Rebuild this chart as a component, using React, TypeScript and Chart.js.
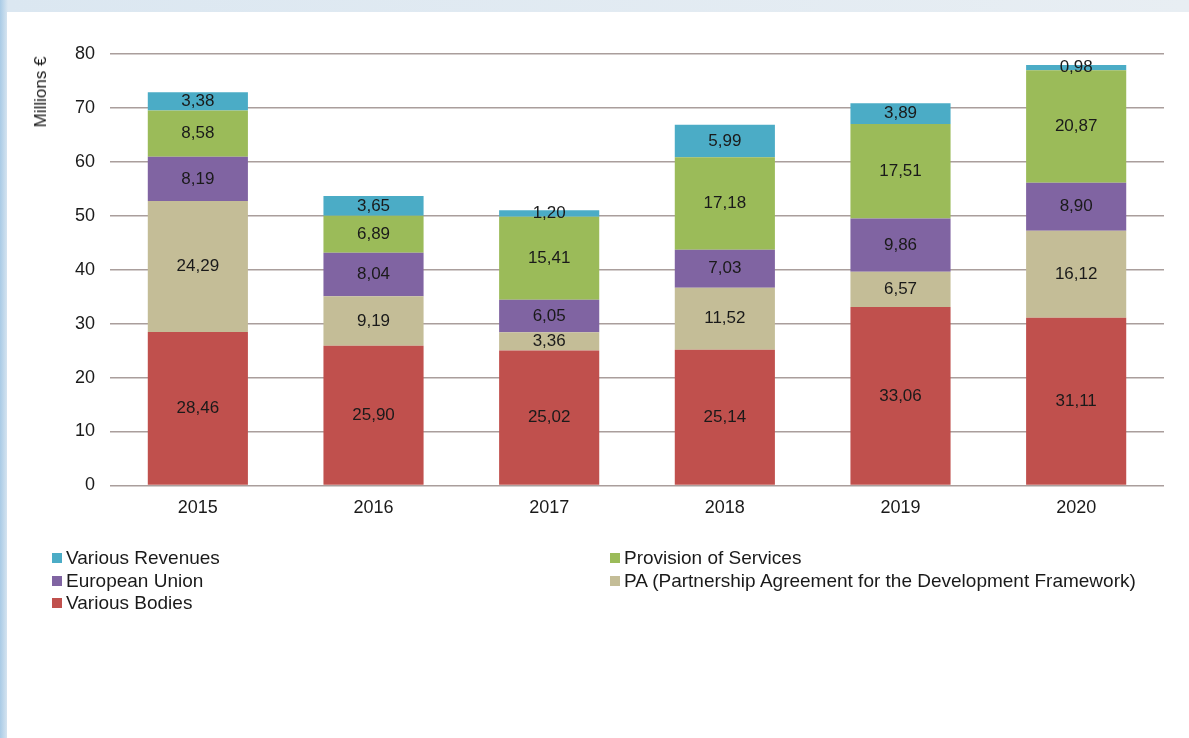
import React, { useEffect, useRef } from "react";
import { Chart, registerables } from "chart.js";

Chart.register(...registerables);

const years = ["2015", "2016", "2017", "2018", "2019", "2020"];
const variousBodies = [28.46, 25.9, 25.02, 25.14, 33.06, 31.11];
const partnershipAgreement = [24.29, 9.19, 3.36, 11.52, 6.57, 16.12];
const europeanUnion = [8.19, 8.04, 6.05, 7.03, 9.86, 8.9];
const provisionOfServices = [8.58, 6.89, 15.41, 17.18, 17.51, 20.87];
const variousRevenues = [3.38, 3.65, 1.2, 5.99, 3.89, 0.98];
const yTicks = [0, 10, 20, 30, 40, 50, 60, 70, 80];

const FONT = "'Liberation Sans', Arial, sans-serif";

const series = [
  { label: "Various Bodies", data: variousBodies, color: "#c0504d" },
  { label: "PA (Partnership Agreement for the Development Framework)", data: partnershipAgreement, color: "#c4bd97" },
  { label: "European Union", data: europeanUnion, color: "#8064a2" },
  { label: "Provision of Services", data: provisionOfServices, color: "#9bbb59" },
  { label: "Various Revenues", data: variousRevenues, color: "#4bacc6" },
];

const legendOrder = [
  ["Various Revenues", "#4bacc6"],
  ["Provision of Services", "#9bbb59"],
  ["European Union", "#8064a2"],
  ["PA (Partnership Agreement for the Development Framework)", "#c4bd97"],
  ["Various Bodies", "#c0504d"],
];

const valueLabels = {
  id: "valueLabels",
  afterDatasetsDraw(chart: any) {
    const ctx = chart.ctx;
    ctx.save();
    ctx.font = `17px ${FONT}`;
    ctx.fillStyle = "#1a1a1a";
    ctx.textAlign = "center";
    ctx.textBaseline = "middle";
    chart.data.datasets.forEach((ds: any, i: number) => {
      const meta = chart.getDatasetMeta(i);
      meta.data.forEach((bar: any, j: number) => {
        const v = ds.data[j];
        const y = (bar.y + bar.base) / 2;
        ctx.fillText(v.toFixed(2).replace(".", ","), bar.x, y);
      });
    });
    ctx.restore();
  },
};

export default function App() {
  const ref = useRef<HTMLCanvasElement>(null);
  useEffect(() => {
    if (!ref.current) return;
    const chart = new Chart(ref.current, {
      type: "bar",
      data: {
        labels: years,
        datasets: series.map((s) => ({
          label: s.label,
          data: s.data,
          backgroundColor: s.color,
          borderWidth: 0,
          barPercentage: 0.57,
          categoryPercentage: 1,
        })),
      },
      options: {
        animation: false,
        responsive: false,
        maintainAspectRatio: false,
        layout: { padding: { left: 60, right: 25, top: 54, bottom: 215 } },
        plugins: { legend: { display: false }, tooltip: { enabled: false } },
        scales: {
          x: {
            stacked: true,
            grid: { display: false },
            border: { display: false },
            ticks: { color: "#1a1a1a", font: { family: FONT, size: 18 }, padding: 4 },
          },
          y: {
            stacked: true,
            min: 0,
            max: 80,
            afterBuildTicks: (axis: any) => {
              axis.ticks = yTicks.map((v) => ({ value: v }));
            },
            grid: { color: "#aa9e9c", lineWidth: 1.5, drawTicks: false },
            border: { display: false },
            ticks: { color: "#1a1a1a", font: { family: FONT, size: 18 }, padding: 15 },
          },
        },
      },
      plugins: [valueLabels],
    });
    return () => chart.destroy();
  }, []);

  return (
    <div
      style={{
        position: "fixed",
        left: 0,
        top: 0,
        width: 1189,
        height: 738,
        background: "linear-gradient(90deg, #a9cbe6 0px, #dbe7f1 8px, #e8eef3 100%)",
        fontFamily: FONT,
        overflow: "hidden",
      }}
    >
      <div style={{ position: "absolute", left: 7, top: 12, right: 0, bottom: 0, background: "#ffffff" }} />
      <canvas ref={ref} width={1189} height={738} style={{ position: "absolute", left: 0, top: 0 }} />
      <div
        style={{
          position: "absolute",
          left: 41,
          top: 92,
          transform: "translate(-50%, -50%) rotate(-90deg)",
          fontSize: 17,
          color: "#1a1a1a",
          whiteSpace: "nowrap",
        }}
      >
        Millions €
      </div>
      <div
        style={{
          position: "absolute",
          left: 52,
          top: 547,
          width: 1120,
          display: "grid",
          gridTemplateColumns: "558px auto",
          rowGap: 0,
          fontSize: 19,
          lineHeight: "22.5px",
          color: "#1a1a1a",
        }}
      >
        {legendOrder.map(([label, color]) => (
          <div key={label} style={{ display: "flex", alignItems: "center", whiteSpace: "nowrap" }}>
            <span style={{ display: "inline-block", width: 10, height: 10, background: color, marginRight: 4 }} />
            {label}
          </div>
        ))}
      </div>
    </div>
  );
}
